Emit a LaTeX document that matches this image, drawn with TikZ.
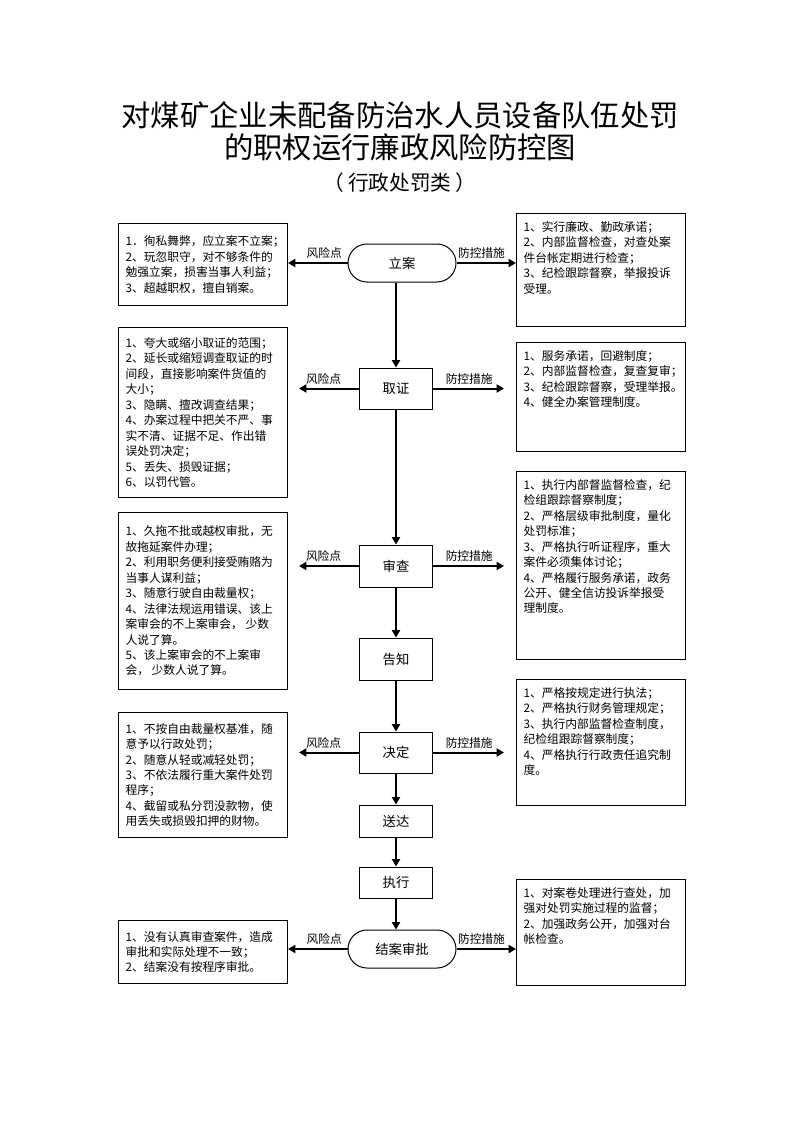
\documentclass[tikz,border=0pt]{standalone}
\usepackage{fontspec}
\setmainfont{Noto Sans CJK SC}
\usetikzlibrary{arrows.meta,shapes.misc}

\begin{document}
\begin{tikzpicture}[x=0.75pt,y=0.75pt,yscale=-1,xscale=1,
  sidebox/.style={draw, line width=0.75pt, minimum width=126.75pt, anchor=north west, inner sep=0pt},
  lefttext/.style={anchor=west, align=left, inner xsep=5.5pt, inner ysep=0pt, font=\fontsize{8.8pt}{11.6pt}\selectfont},
  righttext/.style={anchor=north west, align=left, inner xsep=5.5pt, inner ysep=6pt, font=\fontsize{8.8pt}{11.6pt}\selectfont},
  stepbox/.style={draw, line width=0.75pt, minimum width=54.75pt, inner sep=0pt, font=\fontsize{10pt}{12pt}\selectfont},
  endbox/.style={rounded rectangle, draw, line width=0.75pt, minimum width=81pt, minimum height=28.5pt, inner sep=0pt, font=\fontsize{10pt}{12pt}\selectfont},
  flow/.style={line width=1.5pt, -{Triangle[length=5.5pt,width=6pt]}},
  tag/.style={above, inner sep=2.5pt, font=\fontsize{8.8pt}{10pt}\selectfont}]
\path[use as bounding box] (0,0) rectangle (794,1123);

% Title
\node[font=\fontsize{22pt}{26pt}\selectfont] (title1) at (400,115) {对煤矿企业未配备防治水人员设备队伍处罚};
\node[font=\fontsize{22pt}{26pt}\selectfont] (title2) at (400,147) {的职权运行廉政风险防控图};
\node[font=\fontsize{15.5pt}{18pt}\selectfont] (title3) at (400,183) {（\kern3pt 行政处罚类\kern3pt ）};

% Steps
\node[endbox] (lian) at (402,263) {立案};
\node[stepbox, minimum height=30.75pt] (quzheng) at (396,388.5) {取证};
\node[stepbox, minimum height=31.5pt] (shencha) at (396,566) {审查};
\node[stepbox, minimum height=31.5pt] (gaozhi) at (396,659) {告知};
\node[stepbox, minimum height=30.75pt] (jueding) at (396,752.5) {决定};
\node[stepbox, minimum height=24pt] (songda) at (396,821) {送达};
\node[stepbox, minimum height=23.25pt] (zhixing) at (396,882.5) {执行};
\node[endbox] (jiean) at (402,949) {结案审批};

% Risk boxes (left)
\node[sidebox, minimum height=61.5pt] (risk1) at (118,223) {};
\node[lefttext] (risk1t) at (risk1.west) {1．徇私舞弊，应立案不立案；\\2、玩忽职守，对不够条件的\\勉强立案，损害当事人利益；\\3、超越职权，擅自销案。};
\node[sidebox, minimum height=127.5pt] (risk2) at (118,327) {};
\node[lefttext] (risk2t) at (risk2.west) {1、夸大或缩小取证的范围；\\2、延长或缩短调查取证的时\\间段，直接影响案件货值的\\大小；\\3、隐瞒、擅改调查结果；\\4、办案过程中把关不严、事\\实不清、证据不足、作出错\\误处罚决定；\\5、丢失、损毁证据；\\6、以罚代管。};
\node[sidebox, minimum height=132.75pt] (risk3) at (118,512) {};
\node[lefttext] (risk3t) at (risk3.west) {1、久拖不批或越权审批，无\\故拖延案件办理；\\2、利用职务便利接受贿赂为\\当事人谋利益；\\3、随意行驶自由裁量权；\\4、法律法规运用错误、该上\\案审会的不上案审会，\ 少数\\人说了算。\\5、该上案审会的不上案审\\会，\ 少数人说了算。};
\node[sidebox, minimum height=93.75pt] (risk4) at (118,712) {};
\node[lefttext] (risk4t) at (risk4.west) {1、不按自由裁量权基准，随\\意予以行政处罚；\\2、随意从轻或减轻处罚；\\3、不依法履行重大案件处罚\\程序；\\4、截留或私分罚没款物，使\\用丢失或损毁扣押的财物。};
\node[sidebox, minimum height=47.25pt] (risk5) at (118,920) {};
\node[lefttext] (risk5t) at (risk5.west) {1、没有认真审查案件，造成\\审批和实际处理不一致；\\2、结案没有按程序审批。};

% Control boxes (right)
\node[sidebox, minimum height=84.75pt] (ctrl1) at (516,213) {};
\node[righttext] (ctrl1t) at (ctrl1.north west) {1、实行廉政、勤政承诺；\\2、内部监督检查，对查处案\\件台帐定期进行检查；\\3、纪检跟踪督察，举报投诉\\受理。};
\node[sidebox, minimum height=81.75pt] (ctrl2) at (516,342) {};
\node[righttext] (ctrl2t) at (ctrl2.north west) {1、服务承诺，回避制度；\\2、内部监督检查，复查复审；\\3、纪检跟踪督察，受理举报。\\4、健全办案管理制度。};
\node[sidebox, minimum height=141pt] (ctrl3) at (516,471) {};
\node[righttext] (ctrl3t) at (ctrl3.north west) {1、执行内部督监督检查，纪\\检组跟踪督察制度；\\2、严格层级审批制度，量化\\处罚标准；\\3、严格执行听证程序，重大\\案件必须集体讨论；\\4、严格履行服务承诺，政务\\公开、健全信访投诉举报受\\理制度。};
\node[sidebox, minimum height=94.5pt] (ctrl4) at (516,679) {};
\node[righttext] (ctrl4t) at (ctrl4.north west) {1、严格按规定进行执法；\\2、严格执行财务管理规定；\\3、执行内部监督检查制度，\\纪检组跟踪督察制度；\\4、严格执行行政责任追究制\\度。};
\node[sidebox, minimum height=79.5pt] (ctrl5) at (516,879) {};
\node[righttext] (ctrl5t) at (ctrl5.north west) {1、对案卷处理进行查处，加\\强对处罚实施过程的监督；\\2、加强政务公开，加强对台\\帐检查。};

% Free ends
\coordinate (qzL) at (299,388.5);
\coordinate (qzR) at (504,388.5);
\coordinate (scL) at (299,566);
\coordinate (scR) at (504,566);
\coordinate (jdL) at (299,752.5);
\coordinate (jdR) at (504,752.5);

% Main flow
\draw[flow] (lian.south -| quzheng.north) -- (quzheng.north);
\draw[flow] (quzheng.south) -- (shencha.north);
\draw[flow] (shencha.south) -- (gaozhi.north);
\draw[flow] (gaozhi.south) -- (jueding.north);
\draw[flow] (jueding.south) -- (songda.north);
\draw[flow] (songda.south) -- (zhixing.north);
\draw[flow] (zhixing.south) -- (zhixing.south |- jiean.north);

% Side arrows
\draw[flow] (lian.west) -- (lian.west -| risk1.east) node[tag, pos=0.39] (t1l) {风险点};
\draw[flow] (lian.east) -- (lian.east -| ctrl1.west) node[tag, pos=0.42] (t1r) {防控措施};
\draw[flow] (quzheng.west) -- (qzL) node[tag, pos=0.59] (t2l) {风险点};
\draw[flow] (quzheng.east) -- (qzR) node[tag, pos=0.51] (t2r) {防控措施};
\draw[flow] (shencha.west) -- (scL) node[tag, pos=0.59] (t3l) {风险点};
\draw[flow] (shencha.east) -- (scR) node[tag, pos=0.51] (t3r) {防控措施};
\draw[flow] (jueding.west) -- (jdL) node[tag, pos=0.59] (t4l) {风险点};
\draw[flow] (jueding.east) -- (jdR) node[tag, pos=0.51] (t4r) {防控措施};
\draw[flow] (jiean.west) -- (jiean.west -| risk5.east) node[tag, pos=0.39] (t5l) {风险点};
\draw[flow] (jiean.east) -- (jiean.east -| ctrl5.west) node[tag, pos=0.42] (t5r) {防控措施};

\end{tikzpicture}
\end{document}
